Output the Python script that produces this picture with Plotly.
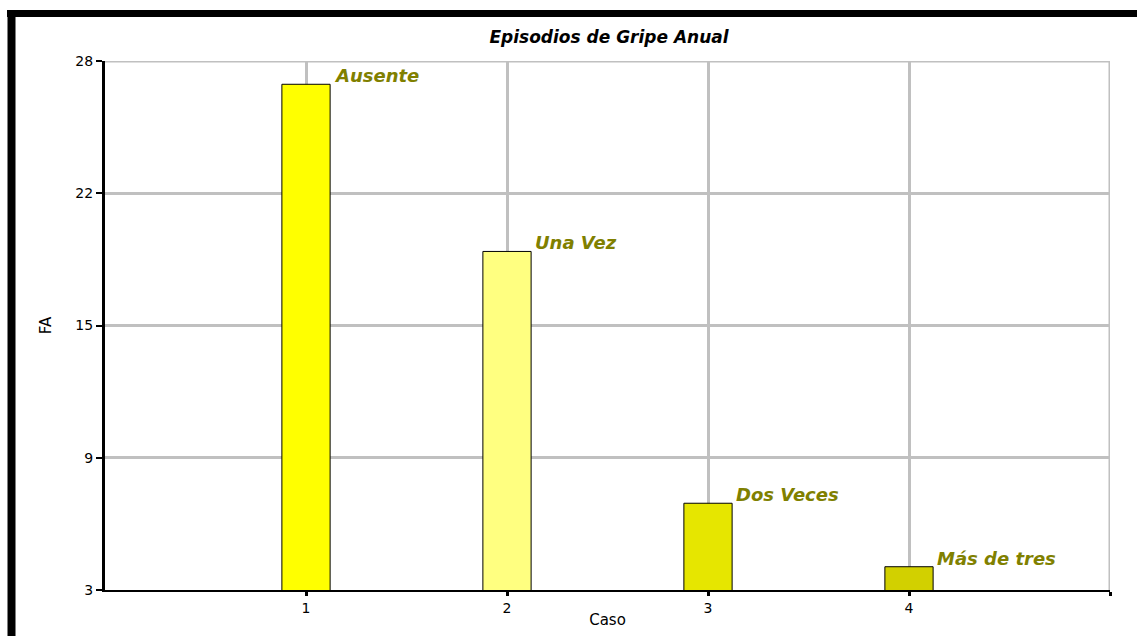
import plotly.graph_objects as go

# Annual flu episodes: frequency (FA) per case
casos = [1, 2, 3, 4]
frecuencias = [26.9, 19.0, 7.1, 4.1]
etiquetas = ["Ausente", "Una Vez", "Dos Veces", "Más de tres"]
colores = ["#ffff00", "#ffff80", "#e6e600", "#d2d000"]

y_ticks = [3, 9.25, 15.5, 21.75, 28]
y_tick_text = ["3", "9", "15", "22", "28"]
x_ticks = [1, 2, 3, 4, 5]
x_tick_text = ["1", "2", "3", "4", ""]

FONT = "DejaVu Sans, Liberation Sans, Arial, sans-serif"
GRID = "#c0c0c0"

fig = go.Figure()
fig.add_trace(go.Bar(
    x=casos,
    y=frecuencias,
    width=0.24,
    marker=dict(color=colores, line=dict(color="#000000", width=1)),
    hoverinfo="x+y",
))

# Category labels above the right edge of each bar
for xc, yv, txt in zip(casos, frecuencias, etiquetas):
    fig.add_annotation(
        x=xc + 0.13, y=yv, text=f"<b><i>{txt}</i></b>",
        xanchor="left", yanchor="bottom", showarrow=False,
        font=dict(family=FONT, size=18, color="#808000"),
        yshift=-4,
    )

# Grid lines along the top and right edges of the plot area
fig.add_shape(type="line", xref="x", yref="y", x0=0, x1=5, y0=28, y1=28,
              line=dict(color=GRID, width=3), layer="below")
fig.add_shape(type="line", xref="x", yref="y", x0=5, x1=5, y0=3, y1=28,
              line=dict(color=GRID, width=3), layer="below")

# Outer black frame around the chart
fig.add_shape(type="line", xref="paper", yref="paper",
              x0=(7 - 105) / 1005, x1=(1200 - 105) / 1005,
              y0=(590 - 13.5) / 529, y1=(590 - 13.5) / 529,
              line=dict(color="#000000", width=7))
fig.add_shape(type="line", xref="paper", yref="paper",
              x0=(11.5 - 105) / 1005, x1=(11.5 - 105) / 1005,
              y0=(590 - 10) / 529, y1=(590 - 700) / 529,
              line=dict(color="#000000", width=8))

fig.update_layout(
    width=1137, height=636,
    margin=dict(l=105, r=27, t=61, b=46),
    paper_bgcolor="#ffffff", plot_bgcolor="#ffffff",
    showlegend=False,
    title=dict(text="<b><i>Episodios de Gripe Anual</i></b>",
               x=609 / 1137, xanchor="center",
               y=1 - 37 / 636, yanchor="middle",
               font=dict(family=FONT, size=17, color="#000000")),
    font=dict(family=FONT, size=12, color="#000000"),
)

fig.update_xaxes(
    range=[0, 5], tickvals=x_ticks, ticktext=x_tick_text,
    automargin=False,
    showgrid=True, gridcolor=GRID, gridwidth=3,
    showline=True, linecolor="#000000", linewidth=2,
    ticks="outside", ticklen=4, tickwidth=3, tickcolor="#000000",
    zeroline=False,
    title=dict(text="Caso", font=dict(family=FONT, size=15), standoff=0),
    tickfont=dict(family=FONT, size=14),
)
fig.update_yaxes(
    range=[3, 28], tickvals=y_ticks, ticktext=y_tick_text,
    automargin=False,
    showgrid=True, gridcolor=GRID, gridwidth=3,
    showline=True, linecolor="#000000", linewidth=3,
    ticks="outside", ticklen=6, tickwidth=2, tickcolor="#000000",
    zeroline=False,
    title=dict(text="FA", font=dict(family=FONT, size=15), standoff=21),
    tickfont=dict(family=FONT, size=14),
)

fig.write_html("out.html")
